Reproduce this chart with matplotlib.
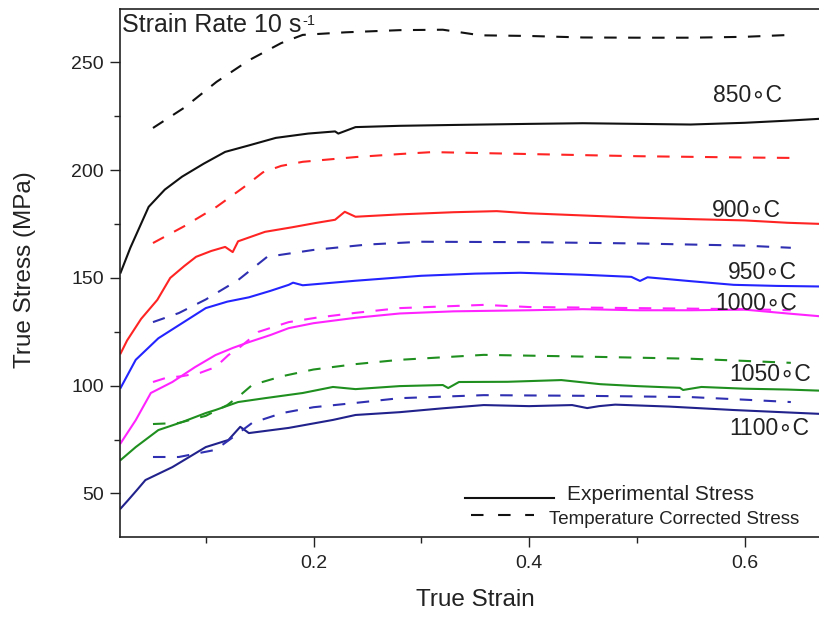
import matplotlib
matplotlib.use("Agg")
import matplotlib.pyplot as plt
from matplotlib.lines import Line2D

plt.rcParams["font.family"] = ["Liberation Sans", "DejaVu Sans"]

# ---- flow curves: experimental (solid) and temperature corrected (dashed) ----
temps = ["850", "900", "950", "1000", "1050", "1100"]

exp_850_x = [0.021, 0.030, 0.047, 0.062, 0.078, 0.098, 0.118, 0.140, 0.165, 0.195, 0.220, 0.223, 0.239, 0.28, 0.33, 0.40, 0.45, 0.50, 0.55, 0.60, 0.64, 0.675]
exp_850_y = [152.5, 164.0, 183.0, 191.0, 197.0, 203.0, 208.5, 211.5, 215.0, 217.0, 218.0, 217.0, 220.0, 220.6, 221.0, 221.5, 221.8, 221.5, 221.2, 222.0, 223.0, 224.0]
cor_850_x = [0.051, 0.080, 0.110, 0.140, 0.170, 0.190, 0.230, 0.280, 0.320, 0.355, 0.400, 0.450, 0.500, 0.550, 0.600, 0.643]
cor_850_y = [219.6, 229.0, 241.0, 251.0, 259.0, 262.8, 264.0, 265.0, 265.2, 262.6, 262.3, 261.6, 261.5, 261.5, 261.9, 262.8]

exp_900_x = [0.021, 0.027, 0.040, 0.055, 0.067, 0.080, 0.091, 0.105, 0.118, 0.125, 0.130, 0.155, 0.180, 0.202, 0.220, 0.229, 0.239, 0.28, 0.33, 0.37, 0.40, 0.45, 0.50, 0.55, 0.60, 0.64, 0.675]
exp_900_y = [115.0, 121.0, 131.0, 139.8, 150.0, 155.5, 159.8, 162.5, 164.4, 162.0, 167.0, 171.4, 173.5, 175.5, 177.0, 180.7, 178.4, 179.5, 180.5, 181.0, 180.0, 179.0, 178.0, 177.3, 176.7, 175.6, 175.0]
cor_900_x = [0.051, 0.080, 0.110, 0.135, 0.153, 0.170, 0.190, 0.239, 0.280, 0.310, 0.400, 0.500, 0.600, 0.643]
cor_900_y = [166.2, 174.0, 183.0, 192.0, 199.0, 202.0, 203.9, 206.1, 207.5, 208.4, 207.5, 206.5, 205.9, 205.7]

exp_950_x = [0.021, 0.035, 0.056, 0.078, 0.100, 0.120, 0.140, 0.160, 0.177, 0.181, 0.190, 0.239, 0.30, 0.35, 0.392, 0.45, 0.495, 0.503, 0.510, 0.55, 0.59, 0.63, 0.675]
exp_950_y = [99.0, 112.0, 122.0, 129.0, 136.0, 139.0, 141.0, 144.0, 146.8, 147.8, 146.6, 148.7, 151.0, 152.0, 152.4, 151.5, 150.5, 148.6, 150.3, 148.5, 146.8, 146.3, 146.0]
cor_950_x = [0.051, 0.075, 0.100, 0.130, 0.157, 0.200, 0.250, 0.300, 0.400, 0.500, 0.600, 0.643]
cor_950_y = [129.5, 133.7, 140.0, 149.0, 159.8, 163.0, 165.5, 166.8, 166.6, 166.0, 165.0, 164.0]

exp_1000_x = [0.021, 0.035, 0.049, 0.069, 0.090, 0.109, 0.125, 0.140, 0.160, 0.177, 0.200, 0.239, 0.28, 0.33, 0.40, 0.45, 0.50, 0.55, 0.60, 0.64, 0.675]
exp_1000_y = [73.3, 84.0, 96.6, 101.7, 108.6, 114.2, 117.5, 120.2, 123.5, 126.7, 129.0, 131.5, 133.5, 134.5, 135.0, 135.5, 135.0, 135.0, 135.3, 133.5, 132.0]
cor_1000_x = [0.051, 0.063, 0.078, 0.095, 0.109, 0.121, 0.132, 0.149, 0.177, 0.202, 0.239, 0.280, 0.358, 0.400, 0.500, 0.600, 0.643]
cor_1000_y = [101.7, 103.6, 104.4, 106.0, 108.6, 114.2, 118.0, 125.0, 129.5, 131.5, 133.8, 136.0, 137.5, 136.5, 136.0, 135.5, 135.0]

exp_1050_x = [0.021, 0.035, 0.056, 0.078, 0.100, 0.109, 0.130, 0.155, 0.190, 0.218, 0.239, 0.28, 0.320, 0.325, 0.335, 0.38, 0.43, 0.466, 0.50, 0.540, 0.543, 0.560, 0.60, 0.64, 0.675]
exp_1050_y = [65.5, 71.5, 79.4, 83.1, 87.3, 88.7, 92.4, 94.2, 96.6, 99.4, 98.4, 99.8, 100.3, 98.9, 101.7, 101.8, 102.6, 100.7, 99.8, 99.0, 98.0, 99.4, 98.6, 98.2, 97.6]
cor_1050_x = [0.051, 0.075, 0.100, 0.120, 0.132, 0.143, 0.171, 0.200, 0.239, 0.280, 0.358, 0.450, 0.550, 0.600, 0.643]
cor_1050_y = [82.2, 82.7, 86.0, 91.0, 95.6, 100.3, 104.4, 107.5, 110.0, 112.0, 114.3, 113.5, 112.5, 111.5, 110.6]

exp_1100_x = [0.021, 0.028, 0.036, 0.044, 0.069, 0.085, 0.100, 0.121, 0.132, 0.140, 0.177, 0.218, 0.239, 0.28, 0.32, 0.358, 0.40, 0.44, 0.454, 0.465, 0.48, 0.53, 0.59, 0.63, 0.675]
exp_1100_y = [43.0, 46.9, 51.5, 56.2, 62.2, 67.0, 71.5, 74.8, 80.9, 78.0, 80.4, 84.1, 86.4, 87.7, 89.5, 91.0, 90.5, 91.0, 89.6, 90.5, 91.2, 90.3, 88.7, 87.8, 86.8]
cor_1100_x = [0.051, 0.075, 0.109, 0.125, 0.143, 0.171, 0.200, 0.239, 0.280, 0.358, 0.450, 0.550, 0.600, 0.643]
cor_1100_y = [66.9, 66.9, 70.2, 76.0, 82.7, 87.3, 90.0, 92.0, 94.2, 95.6, 95.3, 94.7, 93.5, 92.4]

exp_x = [exp_850_x, exp_900_x, exp_950_x, exp_1000_x, exp_1050_x, exp_1100_x]
exp_y = [exp_850_y, exp_900_y, exp_950_y, exp_1000_y, exp_1050_y, exp_1100_y]
cor_x = [cor_850_x, cor_900_x, cor_950_x, cor_1000_x, cor_1050_x, cor_1100_x]
cor_y = [cor_850_y, cor_900_y, cor_950_y, cor_1000_y, cor_1050_y, cor_1100_y]

solid_colors = ["#111111", "#ff2424", "#2424ff", "#ff24ff", "#1f8f1f", "#22228c"]
dash_colors = ["#111111", "#ff2424", "#2f2fb2", "#ff24ff", "#1f8f1f", "#2f2fb2"]

# label anchor (strain, stress) for each temperature tag
label_x = [0.5705, 0.5700, 0.5850, 0.5730, 0.5860, 0.5860]
label_y = [234.5, 181.5, 152.7, 138.3, 105.0, 80.3]

fig = plt.figure(figsize=(8.2, 6.18), dpi=100)
AX_L, AX_B, AX_W, AX_H = 120, 81.5, 712, 527.9
ax = fig.add_axes([AX_L / 820, AX_B / 618, AX_W / 820, AX_H / 618])

def ax_frac(px, py):
    """Convert a pixel position (from top-left) into axes fractions."""
    return (px - AX_L) / AX_W, (618 - AX_B - py) / AX_H

for xs, ys, c in zip(exp_x, exp_y, solid_colors):
    ax.plot(xs, ys, color=c, lw=1.5, solid_joinstyle="round")
for xs, ys, c in zip(cor_x, cor_y, dash_colors):
    ax.plot(xs, ys, color=c, lw=1.5, dashes=(6.0, 5.5))

for t, lx, ly in zip(temps, label_x, label_y):
    ax.text(lx, ly, t + "\u2218C", fontsize=16.5, color="#222222",
            ha="left", va="center")

ax.set_xlim(0.0204, 0.6812)
ax.set_ylim(30, 275)
ax.set_xticks([0.2, 0.4, 0.6])
ax.set_xticks([0.1, 0.3, 0.5], minor=True)
ax.set_yticks([50, 100, 150, 200, 250])
ax.set_yticks([75, 125, 175, 225], minor=True)
ax.tick_params(which="major", direction="out", length=7.5, width=1.0,
               labelsize=14, colors="#222222", pad=4)
ax.tick_params(which="minor", direction="out", length=4.5, width=1.0, colors="#222222")
ax.tick_params(axis="x", pad=6)
for side in ["left", "bottom", "top"]:
    ax.spines[side].set_linewidth(1.2)
    ax.spines[side].set_color("#222222")
ax.spines["right"].set_visible(False)

ax.set_xlabel("True Strain", fontsize=17.5, color="#222222")
ax.set_ylabel("True Stress (MPa)", fontsize=17.5, color="#222222")
ax.xaxis.set_label_coords(*ax_frac(475, 589))
ax.yaxis.set_label_coords(*ax_frac(36, 270))

ax.text(*ax_frac(122, 13), "Strain Rate 10 s", transform=ax.transAxes,
        fontsize=18, color="#222222", ha="left", va="top")
ax.text(*ax_frac(302, 14), "-1", transform=ax.transAxes,
        fontsize=10.5, color="#222222", ha="left", va="top")

# line-style key
x0, y0 = ax_frac(465, 498)
x1, _ = ax_frac(554, 498)
ax.add_line(Line2D([x0, x1], [y0, y0], transform=ax.transAxes, color="#111111", lw=1.5))
ax.text(*ax_frac(567, 494), "Experimental Stress", transform=ax.transAxes,
        fontsize=15, color="#222222", ha="left", va="center")
x0, y0 = ax_frac(471, 515)
x1, _ = ax_frac(534, 515)
ax.add_line(Line2D([x0, x1], [y0, y0], transform=ax.transAxes, color="#111111", lw=1.5,
                   dashes=(6.0, 7.0)))
ax.text(*ax_frac(549, 519), "Temperature Corrected Stress", transform=ax.transAxes,
        fontsize=13.5, color="#222222", ha="left", va="center")

fig.savefig("out.png", dpi=100)
